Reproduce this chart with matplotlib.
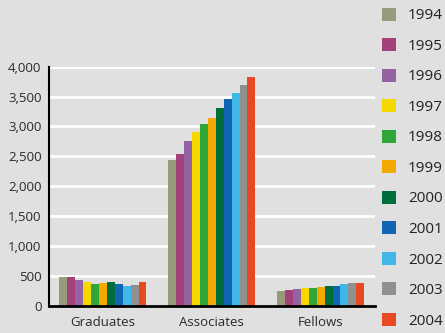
import numpy as np
import matplotlib.pyplot as plt
from matplotlib.patches import Patch
from matplotlib.ticker import FuncFormatter

plt.rcParams['font.family'] = ['Open Sans', 'DejaVu Sans']

categories = ['Graduates', 'Associates', 'Fellows']
years = ['1994', '1995', '1996', '1997', '1998', '1999',
         '2000', '2001', '2002', '2003', '2004']

graduates = [488, 488, 435, 400, 368, 385, 400, 368, 335, 350, 400]
associates = [2446, 2546, 2764, 2915, 3049, 3149, 3300, 3467, 3551, 3685, 3819]
fellows = [251, 268, 285, 301, 301, 318, 335, 335, 368, 385, 385]

colors = ['#979a7b', '#a4417a', '#9463a3', '#f5d800', '#2ea638', '#f2a900',
          '#006e3b', '#1166b3', '#41b6e9', '#909090', '#e74a23']

bg = '#e0e0e0'
fig = plt.figure(figsize=(4.45, 3.33), dpi=100, facecolor=bg)
ax = fig.add_axes([0.109, 0.081, 0.734, 0.719], facecolor=bg)

data = np.array([graduates, associates, fellows])  # rows = category
x = np.arange(len(categories))
n = len(years)
w = 0.8 / n
for i in range(n):
    ax.bar(x - 0.4 + w * (i + 0.5), data[:, i], width=w, color=colors[i],
           zorder=3, linewidth=0)

ax.set_xlim(-0.5, 2.5)
ax.set_ylim(0, 4000)
ax.set_yticks(np.arange(0, 4001, 500))
ax.yaxis.set_major_formatter(FuncFormatter(lambda v, p: f'{int(v):,}'))
ax.set_xticks(x)
ax.set_xticklabels(categories)
ax.tick_params(length=0, labelsize=9.5, labelcolor='#2a2a2a', pad=5)
ax.tick_params(axis='x', pad=7)

ax.grid(axis='y', color='white', linewidth=2, zorder=0)
for s in ['top', 'right']:
    ax.spines[s].set_visible(False)
ax.spines['left'].set_linewidth(1.5)
ax.spines['bottom'].set_linewidth(2)
ax.spines['left'].set_zorder(4)
ax.spines['bottom'].set_zorder(4)

handles = [Patch(facecolor=c, edgecolor='none') for c in colors]
fig.legend(handles, years, loc='upper left', bbox_to_anchor=(0.858, 0.977),
           frameon=False, fontsize=11, handlelength=0.92, handleheight=0.92,
           handletextpad=0.8, labelspacing=0.97, borderaxespad=0, borderpad=0,
           labelcolor='#222222')

fig.savefig('out.png', dpi=100, facecolor=bg)
